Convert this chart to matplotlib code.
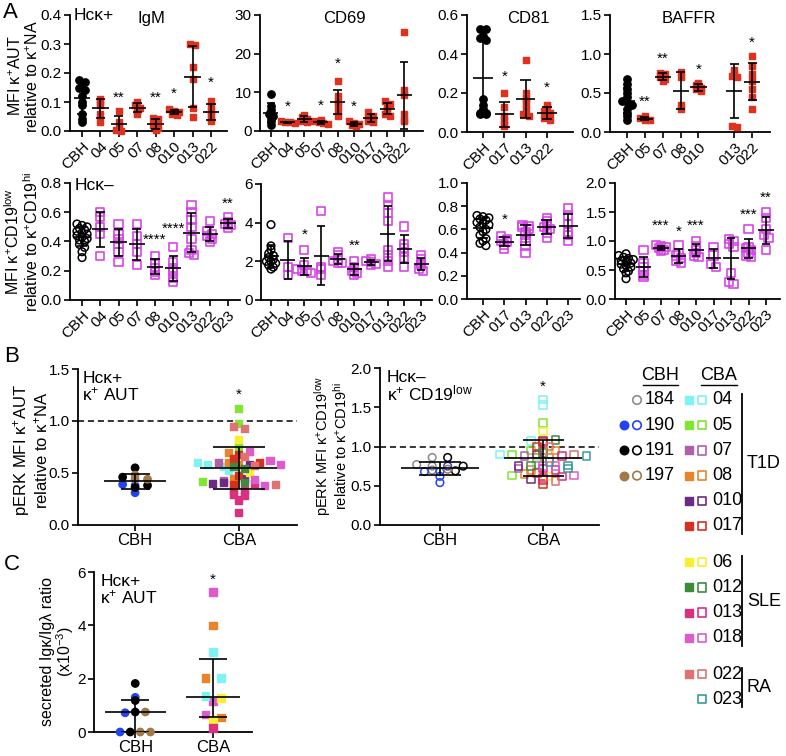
import numpy as np
import matplotlib
matplotlib.use('Agg')
import matplotlib.pyplot as plt

plt.rcParams['font.family'] = ['Liberation Sans', 'DejaVu Sans']
plt.rcParams['mathtext.default'] = 'regular'
plt.rcParams['font.size'] = 11
plt.rcParams['axes.linewidth'] = 1.3

W, H = 786, 756
RED = '#e0301e'
MAG = '#d844ea'

####### panel A, top row (Hck+)
igm_cats = ['CBH', '04', '05', '07', '08', '010', '013', '022']
igm_vals = [
    [0.175, 0.17, 0.16, 0.15, 0.14, 0.12, 0.10, 0.09, 0.06, 0.04, 0.03],
    [0.11, 0.10, 0.09, 0.06, 0.03],
    [0.07, 0.03, 0.01, 0.005, 0.0],
    [0.10, 0.09, 0.08, 0.07, 0.06],
    [0.045, 0.04, 0.02, 0.01, 0.005],
    [0.075, 0.07, 0.065, 0.06, 0.055],
    [0.30, 0.295, 0.22, 0.18, 0.08, 0.05],
    [0.105, 0.085, 0.07, 0.06, 0.04, 0.035],
]
igm_stars = ['', '', '**', '', '**', '*', '', '*']
igm_star_y = [0, 0, 0.115, 0, 0.115, 0.13, 0, 0.165]

cd69_cats = ['CBH', '04', '05', '07', '08', '010', '017', '013', '022']
cd69_vals = [
    [9.6, 6.4, 5.5, 4.3, 3.8, 3.4, 2.6, 1.5],
    [2.5, 2.3, 2.2, 2.1],
    [4.2, 3.5, 3.0, 2.5, 2.2],
    [2.8, 2.5, 2.2, 2.0, 1.9],
    [13.0, 9.0, 7.5, 6.5, 5.0, 4.0],
    [2.5, 2.0, 1.8, 1.5, 1.3],
    [4.8, 4.0, 3.5, 3.0, 2.5, 2.2],
    [7.8, 7.0, 6.0, 5.5, 4.5, 4.0],
    [25.5, 10.7, 9.2, 4.5, 2.8, 2.5],
]
cd69_stars = ['', '*', '', '*', '*', '*', '', '', '']
cd69_star_y = [0, 6.3, 0, 6.6, 17.5, 6.3, 0, 0, 0]

cd81_cats = ['CBH', '017', '013', '022']
cd81_vals = [
    [0.53, 0.53, 0.49, 0.48, 0.47, 0.17, 0.14, 0.12, 0.10, 0.09, 0.09, 0.10],
    [0.20, 0.13, 0.08, 0.06, 0.04, 0.03],
    [0.37, 0.20, 0.17, 0.15, 0.12, 0.09, 0.08],
    [0.14, 0.13, 0.11, 0.10, 0.08, 0.07, 0.06],
]
cd81_stars = ['', '*', '', '*']
cd81_star_y = [0, 0.283, 0, 0.228]

baffr_cats = ['CBH', '05', '07', '08', '010', '', '013', '022']
baffr_vals = [
    [0.68, 0.62, 0.55, 0.50, 0.45, 0.40, 0.38, 0.35, 0.30, 0.25, 0.20, 0.15],
    [0.20, 0.18, 0.16, 0.15],
    [0.76, 0.74, 0.70, 0.68, 0.65],
    [0.77, 0.70, 0.35, 0.30],
    [0.63, 0.60, 0.57, 0.55, 0.52],
    [],
    [0.80, 0.75, 0.72, 0.70, 0.08, 0.07],
    [0.98, 0.85, 0.75, 0.65, 0.55, 0.45, 0.30],
]
baffr_stars = ['', '**', '**', '', '*', '', '', '*']
baffr_star_y = [0, 0.39, 0.94, 0, 0.80, 0, 0, 1.15]

####### panel A, bottom row (Hck-)
lo1_cats = ['CBH', '04', '05', '07', '08', '010', '013', '022', '023']
lo1_vals = [
    [0.52, 0.51, 0.50, 0.49, 0.48, 0.47, 0.46, 0.45, 0.44, 0.43, 0.42, 0.41, 0.40, 0.38, 0.36, 0.33, 0.29],
    [0.60, 0.57, 0.50, 0.45, 0.30],
    [0.52, 0.45, 0.42, 0.38, 0.33, 0.26],
    [0.52, 0.44, 0.38, 0.33, 0.24],
    [0.30, 0.25, 0.22, 0.19, 0.17],
    [0.36, 0.26, 0.22, 0.19, 0.15, 0.12],
    [0.65, 0.60, 0.55, 0.50, 0.42, 0.34, 0.32, 0.31],
    [0.54, 0.47, 0.45, 0.44, 0.42, 0.40],
    [0.57, 0.53, 0.52, 0.51, 0.49],
]
lo1_stars = ['', '', '', '', '****', '****', '', '', '**']
lo1_star_y = [0, 0, 0, 0, 0.41, 0.49, 0, 0, 0.66]

lo2_cats = ['CBH', '04', '05', '07', '08', '010', '017', '013', '022', '023']
lo2_vals = [
    [3.9, 2.8, 2.6, 2.4, 2.3, 2.2, 2.1, 2.0, 2.0, 1.9, 1.8, 1.7, 1.6],
    [3.2, 1.7, 1.3],
    [2.6, 1.8, 1.6, 1.5, 1.5, 1.4],
    [4.6, 1.7, 1.6, 1.3],
    [2.5, 2.3, 2.1, 2.0, 1.9, 1.9],
    [2.0, 1.7, 1.5, 1.4, 1.3],
    [2.1, 2.0, 1.95, 1.85, 1.8],
    [5.3, 4.9, 4.5, 4.1, 2.6, 2.3, 2.0, 1.7],
    [3.8, 2.9, 2.7, 2.5, 2.2, 1.7],
    [2.3, 2.1, 1.9, 1.8, 1.6, 1.5],
]
lo2_stars = ['', '', '*', '', '', '**', '', '', '', '']
lo2_star_y = [0, 0, 3.36, 0, 0, 2.83, 0, 0, 0, 0]

lo3_cats = ['CBH', '017', '013', '022', '023']
lo3_vals = [
    [0.72, 0.71, 0.70, 0.69, 0.68, 0.66, 0.65, 0.64, 0.62, 0.60, 0.58, 0.55, 0.52, 0.50, 0.48, 0.46],
    [0.54, 0.52, 0.50, 0.49, 0.47, 0.43],
    [0.64, 0.63, 0.62, 0.60, 0.58, 0.55, 0.50, 0.46, 0.40],
    [0.70, 0.67, 0.65, 0.62, 0.60, 0.57, 0.53],
    [0.78, 0.72, 0.65, 0.58, 0.55, 0.50],
]
lo3_stars = ['', '*', '', '', '']
lo3_star_y = [0, 0.68, 0, 0, 0]

lo4_cats = ['CBH', '05', '07', '08', '010', '017', '013', '022', '023']
lo4_vals = [
    [0.78, 0.75, 0.72, 0.70, 0.68, 0.66, 0.64, 0.62, 0.60, 0.58, 0.55, 0.52, 0.48, 0.45, 0.35],
    [0.85, 0.62, 0.55, 0.48, 0.42, 0.38],
    [0.93, 0.91, 0.90, 0.88, 0.85, 0.82],
    [0.93, 0.80, 0.75, 0.70, 0.65, 0.62],
    [1.00, 0.92, 0.85, 0.80, 0.75, 0.72],
    [0.90, 0.75, 0.60, 0.55],
    [1.03, 1.00, 0.95, 0.90, 0.45, 0.30, 0.26],
    [1.20, 0.90, 0.88, 0.85, 0.80, 0.75, 0.72],
    [1.50, 1.40, 1.20, 1.10, 1.05, 0.85],
]
lo4_stars = ['', '', '***', '*', '***', '', '', '***', '**']
lo4_star_y = [0, 0, 1.27, 1.16, 1.27, 0, 0, 1.45, 1.74]

####### donors / colours (legend)
cbh_ids = ['184', '190', '191', '197']
cbh_cols = ['#8c8c8c', '#2244ee', '#000000', '#a07a4a']
cbh_filled = [False, True, True, True]

cba_groups = ['T1D', 'SLE', 'RA']
cba_ids = [['04', '05', '07', '08', '010', '017'], ['06', '012', '013', '018'], ['022', '023']]
cba_cols = {'04': '#7ff2f2', '05': '#80e632', '07': '#b060a8', '08': '#e8852c',
            '010': '#6b2a85', '017': '#d4321e', '06': '#f7ef2f', '012': '#3d8a3d',
            '013': '#d9307f', '018': '#dc5ccc', '022': '#e07272', '023': '#3a9a9a'}

####### panel B, pERK
bl_cbh = {'190': [0.39, 0.38, 0.31], '191': [0.55, 0.46, 0.36, 0.38], '197': [0.48, 0.44, 0.44]}
bl_cba = {'04': [0.60, 0.58, 0.56, 0.52], '05': [1.12, 0.98, 0.75, 0.42], '07': [0.43, 0.60],
          '08': [0.70, 0.60, 0.58, 0.45], '010': [0.58, 0.45, 0.40, 0.41],
          '017': [0.68, 0.60, 0.64, 0.48, 0.39, 0.33], '06': [0.82, 0.51], '012': [0.56, 0.54, 0.41],
          '013': [0.40, 0.33, 0.29, 0.28, 0.24, 0.12], '018': [0.71, 0.62, 0.58, 0.44, 0.38],
          '022': [0.95, 0.93, 0.66, 0.57, 0.39]}
br_cbh = {'184': [0.86, 0.77, 0.75, 0.70], '190': [0.75, 0.68, 0.68, 0.62, 0.54],
          '191': [0.86, 0.75, 0.69], '197': [0.71]}
br_cba = {'04': [1.60, 1.53, 1.07, 0.90, 0.78], '05': [1.30, 0.95, 0.90, 0.63], '07': [0.95, 0.88, 0.72],
          '08': [0.95, 0.85, 0.70, 0.65], '010': [1.07, 0.90, 0.75, 0.58],
          '017': [1.06, 1.00, 0.66, 0.57, 0.52], '06': [1.19, 0.90, 0.62], '012': [1.08, 0.92, 0.75],
          '013': [0.88, 0.72, 0.70, 0.62, 0.60], '018': [0.75, 0.75, 0.63],
          '022': [1.00, 0.90, 0.85, 0.56], '023': [0.88, 0.80, 0.76, 0.72]}

####### panel C, secreted Igk/Igl
c_cbh = {'190': [1.30, 0.72, 0.0], '191': [1.82, 1.18, 0.75, 0.0], '197': [0.75, 0.0, 0.0]}
c_cba = {'018': [5.25, 1.15, 0.65], '08': [4.0, 2.02, 0.55], '04': [3.0, 2.02, 1.35],
         '06': [1.28, 0.45], '013': [0.15]}


def swarm(v, ystep, xstep):
    v = np.asarray(v, float)
    off = np.zeros(len(v))
    rows = np.round(v / ystep).astype(int)
    for r in np.unique(rows):
        idx = np.where(rows == r)[0]
        off[idx] = (np.arange(len(idx)) - (len(idx) - 1) / 2) * xstep
    return off


def errbar(ax, x, vals, hw, cw, kind='sd'):
    v = np.asarray(vals, float)
    if kind == 'sd':
        c = v.mean()
        s = v.std(ddof=1) if len(v) > 1 else 0
        lo, hi = c - s, c + s
    else:
        c = np.median(v)
        lo, hi = np.percentile(v, [25, 75], method='weibull')
    kw = dict(color='k', lw=1.2, zorder=6, solid_capstyle='butt')
    ax.plot([x - hw, x + hw], [c, c], **kw)
    ax.plot([x, x], [lo, hi], **kw)
    ax.plot([x - cw, x + cw], [lo, lo], **kw)
    ax.plot([x - cw, x + cw], [hi, hi], **kw)


def px_axes(fig, x0, y0, x1, y1):
    ax = fig.add_axes([x0 / W, 1 - y1 / H, (x1 - x0) / W, (y1 - y0) / H])
    ax.spines['top'].set_visible(False)
    ax.spines['right'].set_visible(False)
    ax.tick_params(direction='out', length=4, width=1.2, labelsize=11, pad=2)
    return ax


def cat_panel(ax, cats, groups, stars, star_y, ylim, yticks, ylabels, xlim, top=True):
    span = ylim[1] - ylim[0]
    for i, v in enumerate(groups):
        if not v:
            continue
        v = np.asarray(v, float)
        dx = swarm(v, span / 28, 0.28)
        if i == 0:
            if top:
                ax.scatter(i + dx, v, s=28, marker='o', color='k', zorder=3, clip_on=False)
            else:
                ax.scatter(i + dx, v, s=30, marker='o', facecolor='none', edgecolor='k',
                           linewidth=1.1, zorder=3, clip_on=False)
        else:
            if top:
                ax.scatter(i + dx, v, s=24, marker='s', color=RED, zorder=3, clip_on=False)
            else:
                ax.scatter(i + dx, v, s=34, marker='s', facecolor='none', edgecolor=MAG,
                           linewidth=1.2, zorder=3, clip_on=False)
        errbar(ax, i, v, 0.45, 0.25)
    for i, (s, y) in enumerate(zip(stars, star_y)):
        if s:
            ax.text(i, y, s, ha='center', va='center', fontsize=11)
    ticks = [i for i, c in enumerate(cats) if c]
    ax.set_xticks(ticks)
    ax.set_xticklabels([cats[i] for i in ticks], rotation=45, ha='right', va='top',
                       rotation_mode='anchor', fontsize=11)
    ax.set_ylim(*ylim)
    ax.set_yticks(yticks)
    ax.set_yticklabels(ylabels)
    ax.set_xlim(*xlim)


def group_dots(ax, x, groups, cols, marker, filled, s, ystep, xstep, lw=1.1):
    vals = np.concatenate([np.asarray(v, float) for v in groups.values()])
    colors = [cols[k] for k, v in groups.items() for _ in v]
    dx = swarm(vals, ystep, xstep)
    if filled:
        ax.scatter(x + dx, vals, s=s, marker=marker, color=colors, zorder=3, clip_on=False)
    else:
        ax.scatter(x + dx, vals, s=s, marker=marker, facecolor='none', edgecolor=colors,
                   linewidth=lw, zorder=3, clip_on=False)
    return vals


fig = plt.figure(figsize=(W / 100, H / 100), dpi=100)


def ftext(x, y, s, **kw):
    fig.text(x / W, 1 - y / H, s, **kw)


# top row
ax = px_axes(fig, 70, 15, 227, 131)
cat_panel(ax, igm_cats, igm_vals, igm_stars, igm_star_y, (0, 0.4), [0, 0.1, 0.2, 0.3, 0.4],
          ['0.0', '0.1', '0.2', '0.3', '0.4'], (-0.65, 7.87))
ax.text(0.52, 0.97, 'IgM', transform=ax.transAxes, ha='center', va='center', fontsize=12)
ax.text(0.025, 1.0, 'Hcκ+', transform=ax.transAxes, ha='left', va='center', fontsize=12.5)

ax = px_axes(fig, 260, 15, 423, 131)
cat_panel(ax, cd69_cats, cd69_vals, cd69_stars, cd69_star_y, (0, 30), [0, 10, 20, 30],
          ['0', '10', '20', '30'], (-0.66, 9.14))
ax.text(0.52, 0.97, 'CD69', transform=ax.transAxes, ha='center', va='center', fontsize=12)

ax = px_axes(fig, 467, 15, 573, 132)
cat_panel(ax, cd81_cats, cd81_vals, cd81_stars, cd81_star_y, (0, 0.6), [0, 0.2, 0.4, 0.6],
          ['0.0', '0.2', '0.4', '0.6'], (-0.75, 4.22))
ax.text(0.58, 0.97, 'CD81', transform=ax.transAxes, ha='center', va='center', fontsize=12)

ax = px_axes(fig, 610, 15, 770, 132)
cat_panel(ax, baffr_cats, baffr_vals, baffr_stars, baffr_star_y, (0, 1.5), [0, 0.5, 1.0, 1.5],
          ['0.0', '0.5', '1.0', '1.5'], (-0.95, 8.0))
ax.text(0.49, 0.97, 'BAFFR', transform=ax.transAxes, ha='center', va='center', fontsize=12)

# bottom row
ax = px_axes(fig, 70, 183, 240, 300)
cat_panel(ax, lo1_cats, lo1_vals, lo1_stars, lo1_star_y, (0, 0.8), [0, 0.2, 0.4, 0.6, 0.8],
          ['0.0', '0.2', '0.4', '0.6', '0.8'], (-0.66, 8.66), top=False)
ax.text(0.025, 0.98, 'Hcκ–', transform=ax.transAxes, ha='left', va='center', fontsize=12.5)

ax = px_axes(fig, 261, 184, 432, 300)
cat_panel(ax, lo2_cats, lo2_vals, lo2_stars, lo2_star_y, (0, 6), [0, 2, 4, 6],
          ['0', '2', '4', '6'], (-0.6, 9.66), top=False)

ax = px_axes(fig, 467, 183, 580, 299)
cat_panel(ax, lo3_cats, lo3_vals, lo3_stars, lo3_star_y, (0, 1.0), [0, 0.2, 0.4, 0.6, 0.8, 1.0],
          ['0.0', '0.2', '0.4', '0.6', '0.8', '1.0'], (-0.75, 4.56), top=False)

ax = px_axes(fig, 615, 183, 780, 299)
cat_panel(ax, lo4_cats, lo4_vals, lo4_stars, lo4_star_y, (0, 2.0), [0, 0.5, 1.0, 1.5, 2.0],
          ['0.0', '0.5', '1.0', '1.5', '2.0'], (-0.63, 8.8), top=False)

ftext(24, 76, 'MFI κ$^{+}$AUT\nrelative to κ$^{+}$NA', rotation=90, ha='center', va='center',
      fontsize=11.5, linespacing=1.0)
ftext(22, 242, 'MFI κ$^{+}$CD19$^{low}$\nrelative to κ$^{+}$CD19$^{hi}$', rotation=90,
      ha='center', va='center', fontsize=11.5, linespacing=1.0)

# panel B left
ax = px_axes(fig, 78, 369, 297, 525)
group_dots(ax, 0, bl_cbh, dict(zip(cbh_ids, cbh_cols)), 'o', True, 28, 0.05, 0.12)
errbar(ax, 0, np.concatenate(list(bl_cbh.values())), 0.3, 0.14)
group_dots(ax, 1, bl_cba, cba_cols, 's', True, 26, 0.05, 0.1)
errbar(ax, 1, np.concatenate(list(bl_cba.values())), 0.37, 0.25)
ax.axhline(1.0, color='k', lw=1.1, ls=(0, (4, 2.5)), zorder=1)
ax.text(1, 1.25, '*', ha='center', va='center', fontsize=11)
ax.set_ylim(0, 1.5)
ax.set_yticks([0, 0.5, 1.0, 1.5])
ax.set_yticklabels(['0.0', '0.5', '1.0', '1.5'])
ax.set_xlim(-0.55, 1.56)
ax.set_xticks([0, 1])
ax.set_xticklabels(['CBH', 'CBA'], fontsize=12)
ax.text(0.02, 0.99, 'Hcκ+\nκ$^{+}$ AUT', transform=ax.transAxes, ha='left', va='top',
        fontsize=12.5, linespacing=0.95)
ftext(31, 450, 'pERK MFI κ$^{+}$AUT\nrelative to κ$^{+}$NA', rotation=90, ha='center',
      va='center', fontsize=12, linespacing=1.0)

# panel B right
ax = px_axes(fig, 380, 368, 599, 525)
group_dots(ax, 0, br_cbh, dict(zip(cbh_ids, cbh_cols)), 'o', False, 30, 0.04, 0.15)
errbar(ax, 0, np.concatenate(list(br_cbh.values())), 0.38, 0.2)
group_dots(ax, 1, br_cba, cba_cols, 's', False, 30, 0.04, 0.12)
errbar(ax, 1, np.concatenate(list(br_cba.values())), 0.38, 0.2)
ax.axhline(1.0, color='k', lw=1.1, ls=(0, (4, 2.5)), zorder=1)
ax.text(1, 1.76, '*', ha='center', va='center', fontsize=11)
ax.set_ylim(0, 2.0)
ax.set_yticks([0, 0.5, 1.0, 1.5, 2.0])
ax.set_yticklabels(['0.0', '0.5', '1.0', '1.5', '2.0'])
ax.set_xlim(-0.58, 1.54)
ax.set_xticks([0, 1])
ax.set_xticklabels(['CBH', 'CBA'], fontsize=12)
ax.text(0.03, 0.99, 'Hcκ–\nκ$^{+}$ CD19$^{low}$', transform=ax.transAxes, ha='left', va='top',
        fontsize=12.5, linespacing=0.95)
ftext(331, 446, 'pERK MFI κ$^{+}$CD19$^{low}$\nrelative to κ$^{+}$CD19$^{hi}$', rotation=90,
      ha='center', va='center', fontsize=10.5, linespacing=0.95)

# panel C
ax = px_axes(fig, 94, 572, 252, 732)
group_dots(ax, 0, c_cbh, dict(zip(cbh_ids, cbh_cols)), 'o', True, 28, 0.15, 0.13)
errbar(ax, 0, np.concatenate(list(c_cbh.values())), 0.39, 0.18, kind='iqr')
group_dots(ax, 1, c_cba, cba_cols, 's', True, 28, 0.15, 0.2)
errbar(ax, 1, np.concatenate(list(c_cba.values())), 0.35, 0.18, kind='iqr')
ax.text(1, 5.7, '*', ha='center', va='center', fontsize=11)
ax.set_ylim(0, 6)
ax.set_yticks([0, 2, 4, 6])
ax.set_yticklabels(['0', '2', '4', '6'])
ax.set_xlim(-0.53, 1.5)
ax.set_xticks([0, 1])
ax.set_xticklabels(['CBH', 'CBA'], fontsize=12)
ax.text(0.04, 0.99, 'Hcκ+\nκ$^{+}$ AUT', transform=ax.transAxes, ha='left', va='top',
        fontsize=12.5, linespacing=0.95)
ftext(58, 652, 'secreted Igκ/Igλ ratio\n(x10$^{-3}$)', rotation=90, ha='center', va='center',
      fontsize=11.5, linespacing=1.0)

# panel letters
ftext(10, 12, 'A', ha='center', va='center', fontsize=16)
ftext(12, 357, 'B', ha='center', va='center', fontsize=16)
ftext(12, 564, 'C', ha='center', va='center', fontsize=16)

# legend (pixel coordinates on an overlay)
lg = fig.add_axes([0, 0, 1, 1])
lg.set_xlim(0, W)
lg.set_ylim(H, 0)
lg.axis('off')
lg.text(660, 376, 'CBH', ha='center', va='center', fontsize=13)
lg.plot([643, 678], [385, 385], color='k', lw=1)
lg.text(719, 376, 'CBA', ha='center', va='center', fontsize=13)
lg.plot([701, 737], [385, 385], color='k', lw=1)
y = 400
for i, cid in enumerate(cbh_ids):
    yy = y + i * 25.2
    if cbh_filled[i]:
        lg.scatter(624, yy, s=38, marker='o', color=cbh_cols[i])
    lg.scatter(637, yy, s=38, marker='o', facecolor='none', edgecolor=cbh_cols[i], linewidth=1.2)
    lg.text(645, yy, cid, ha='left', va='center', fontsize=13)
for g, ids in zip(cba_groups, cba_ids):
    y0 = y
    for cid in ids:
        if cid != '023':
            lg.scatter(689, y, s=38, marker='s', color=cba_cols[cid])
        lg.scatter(702, y, s=38, marker='s', facecolor='none', edgecolor=cba_cols[cid], linewidth=1.2)
        lg.text(712, y, cid, ha='left', va='center', fontsize=13)
        y += 25.2
    y1 = y - 25.2
    lg.plot([742, 742], [y0 - 6, y1 + 8], color='k', lw=1.3)
    lg.text(747, (y0 + y1) / 2 + 1, g, ha='left', va='center', fontsize=13)
    y += 11

fig.savefig('out.png', dpi=100)
